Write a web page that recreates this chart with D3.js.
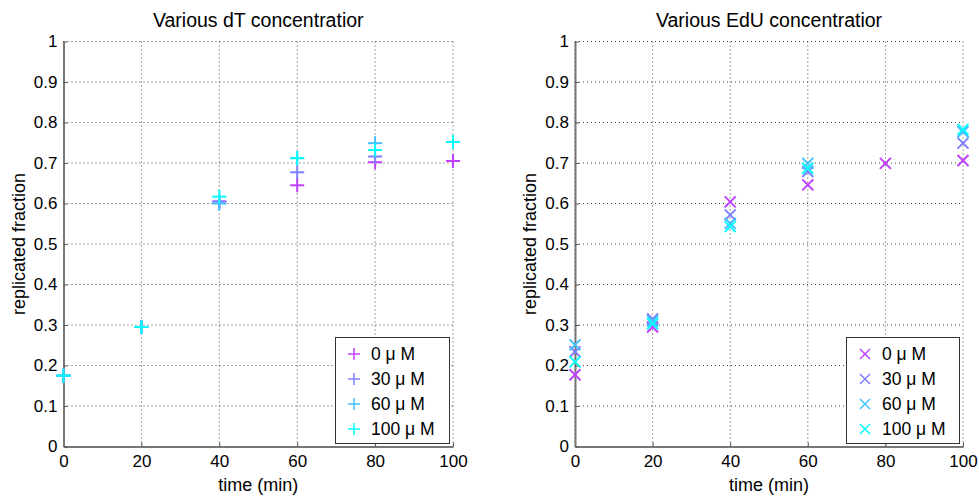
<!DOCTYPE html>
<html><head><meta charset="utf-8">
<script src="https://cdn.jsdelivr.net/npm/d3@7"></script>
<style>
body{margin:0;background:#fff;}
text{font-family:"Liberation Sans",Arial,Helvetica,sans-serif;fill:#000;}
</style></head>
<body><svg id="c" width="979" height="496"></svg>
<script>
// ---- data ----
const times = [0, 20, 40, 60, 80, 100];
const seriesNames = ["0 \u03bc M", "30 \u03bc M", "60 \u03bc M", "100 \u03bc M"];
const seriesColors = ["#bf40ff", "#8080ff", "#40bfff", "#00ffff"];
const xTicks = [0, 20, 40, 60, 80, 100];
const yTicks = [0, 0.1, 0.2, 0.3, 0.4, 0.5, 0.6, 0.7, 0.8, 0.9, 1];
const yTickLabels = ["0", "0.1", "0.2", "0.3", "0.4", "0.5", "0.6", "0.7", "0.8", "0.9", "1"];
// dT panel (plus markers)
const dT_0   = [0.175, 0.295, 0.605, 0.645, 0.702, 0.705];
const dT_30  = [0.175, 0.295, 0.605, 0.677, 0.716, 0.752];
const dT_60  = [0.175, 0.295, 0.600, 0.712, 0.749, 0.752];
const dT_100 = [0.175, 0.295, 0.617, 0.712, 0.732, 0.752];
// EdU panel (x markers)
const EdU_0   = [0.177, 0.295, 0.604, 0.646, 0.699, 0.706];
const EdU_30  = [0.234, 0.315, 0.572, 0.679, null, 0.749];
const EdU_60  = [0.251, 0.310, 0.551, 0.699, null, 0.777];
const EdU_100 = [0.209, 0.303, 0.543, 0.687, null, 0.783];

const panels = [
  {title: "Various dT concentratior", marker: "plus", series: [dT_0, dT_30, dT_60, dT_100],
   x0: 63.5, x1: 453, legend: {x: 335, y: 337, w: 114, h: 106}},
  {title: "Various EdU concentratior", marker: "x", series: [EdU_0, EdU_30, EdU_60, EdU_100],
   x0: 575, x1: 963, legend: {x: 846, y: 337, w: 113, h: 106}}
];
const yTop = 41.5, yBot = 446.5;
const tickFont = 17, labelFont = 18, titleFont = 19.5, legendFont = 17.5;

const svg = d3.select("#c");

panels.forEach(p => {
  const x = d3.scaleLinear().domain([0, 100]).range([p.x0, p.x1]);
  const y = d3.scaleLinear().domain([0, 1]).range([yBot, yTop]);
  const g = svg.append("g");

  // grid
  g.append("g").selectAll("line").data(xTicks).join("line")
    .attr("x1", d => x(d)).attr("x2", d => x(d)).attr("y1", yTop).attr("y2", yBot)
    .attr("stroke", "#444").attr("stroke-width", 1).attr("stroke-dasharray", "1,3");
  g.append("g").selectAll("line").data(yTicks).join("line")
    .attr("x1", p.x0).attr("x2", p.x1).attr("y1", d => y(d)).attr("y2", d => y(d))
    .attr("stroke", "#444").attr("stroke-width", 1).attr("stroke-dasharray", "1,3");

  // axes
  const xa = g.append("g").attr("transform", `translate(0,${yBot})`)
    .call(d3.axisBottom(x).tickValues(xTicks).tickSizeInner(-4).tickSizeOuter(0).tickPadding(8));
  const ya = g.append("g").attr("transform", `translate(${p.x0},0)`)
    .call(d3.axisLeft(y).tickValues(yTicks).tickFormat((d, i) => yTickLabels[i]).tickSizeInner(-4).tickSizeOuter(0).tickPadding(6));
  [xa, ya].forEach(a => {
    a.select(".domain").attr("stroke", "#777").attr("stroke-width", 2);
    a.selectAll(".tick line").attr("stroke", "#555");
    a.selectAll("text").attr("font-size", tickFont).attr("font-family", "Liberation Sans, Arial, sans-serif").attr("fill", "#000");
  });
  xa.selectAll("text").attr("dy", "0.71em");

  // titles
  g.append("text").attr("x", (p.x0 + p.x1) / 2).attr("y", 27).attr("text-anchor", "middle")
    .attr("font-size", titleFont).text(p.title);
  g.append("text").attr("x", (p.x0 + p.x1) / 2).attr("y", 491).attr("text-anchor", "middle")
    .attr("font-size", labelFont).text("time (min)");
  g.append("text").attr("transform", `translate(${p.x0 - 39},${(yTop + yBot) / 2}) rotate(-90)`)
    .attr("text-anchor", "middle").attr("font-size", labelFont).text("replicated fraction");

  // markers
  const r = 7, rx = 5.5;
  function drawMarker(sel, cx, cy, color) {
    if (p.marker === "plus") {
      sel.append("line").attr("x1", cx - r).attr("x2", cx + r).attr("y1", cy).attr("y2", cy);
      sel.append("line").attr("x1", cx).attr("x2", cx).attr("y1", cy - r).attr("y2", cy + r);
    } else {
      sel.append("line").attr("x1", cx - rx).attr("x2", cx + rx).attr("y1", cy - rx).attr("y2", cy + rx);
      sel.append("line").attr("x1", cx - rx).attr("x2", cx + rx).attr("y1", cy + rx).attr("y2", cy - rx);
    }
    sel.selectAll("line").attr("stroke", color).attr("stroke-width", 2);
  }
  p.series.forEach((vals, si) => {
    vals.forEach((v, i) => {
      if (v == null) return;
      drawMarker(g.append("g"), x(times[i]), y(v), seriesColors[si]);
    });
  });

  // legend
  const L = p.legend;
  g.append("rect").attr("x", L.x + 0.5).attr("y", L.y + 0.5).attr("width", L.w).attr("height", L.h)
    .attr("fill", "#fff").attr("stroke", "#333").attr("stroke-width", 1);
  seriesNames.forEach((name, si) => {
    const cy = L.y + 17 + si * 25;
    const mg = g.append("g");
    const cx = L.x + 19;
    if (p.marker === "plus") {
      mg.append("line").attr("x1", cx - 6).attr("x2", cx + 6).attr("y1", cy).attr("y2", cy);
      mg.append("line").attr("x1", cx).attr("x2", cx).attr("y1", cy - 6).attr("y2", cy + 6);
    } else {
      mg.append("line").attr("x1", cx - 5).attr("x2", cx + 5).attr("y1", cy - 5).attr("y2", cy + 5);
      mg.append("line").attr("x1", cx - 5).attr("x2", cx + 5).attr("y1", cy + 5).attr("y2", cy - 5);
    }
    mg.selectAll("line").attr("stroke", seriesColors[si]).attr("stroke-width", 1.5);
    g.append("text").attr("x", L.x + 36).attr("y", cy + 6).attr("font-size", legendFont).text(name);
  });
});
</script></body></html>
